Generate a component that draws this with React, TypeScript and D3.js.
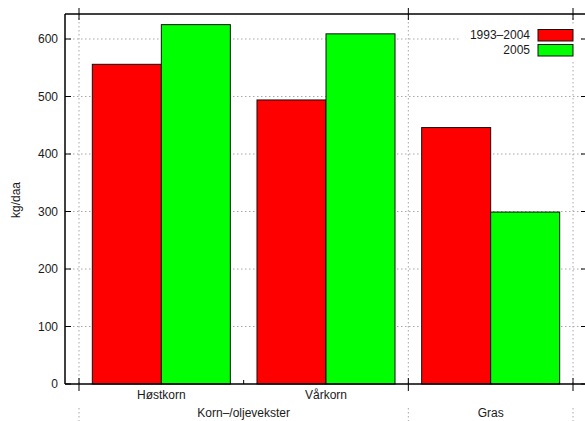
import React from "react";
import * as d3 from "d3";

// Yield per decare, grouped by crop
const crops = ["Høstkorn", "Vårkorn", "Gras"];
// Crops that form their own group carry only the group label
const cropLabels = ["Høstkorn", "Vårkorn", ""];
const seriesNames = ["1993–2004", "2005"];
const values1993to2004 = [556, 494, 446];
const values2005 = [625, 609, 299];
const seriesColors = ["#ff0000", "#00ff00"];
const yTicks = [0, 100, 200, 300, 400, 500, 600];
const groupLabels = [
  { label: "Korn–/oljevekster", from: 0, to: 2 },
  { label: "Gras", from: 2, to: 3 },
];

const W = 585;
const H = 421;
const left = 65;
const right = 587;
const top = 14;
const bottom = 384;
const font = "'Liberation Sans', Arial, Helvetica, sans-serif";
const textColor = "#1a1a1a";
const gridColor = "#a8a8a8";

export default function App() {
  const y = d3.scaleLinear().domain([0, 643.5]).range([bottom, top]);
  const x0 = d3.scaleBand<string>().domain(crops).range([79, 573]).paddingInner(0);
  const x1 = d3
    .scaleBand<string>()
    .domain(seriesNames)
    .range([0, x0.step()])
    .paddingOuter(0.193)
    .paddingInner(0);

  const series = [values1993to2004, values2005];
  const boundaries = d3.range(crops.length + 1).map((i) => 79 + i * x0.step());
  const groupEdges = groupLabels.flatMap((g) => [g.from, g.to]);
  const majorEdges = Array.from(new Set(groupEdges)).map((i) => boundaries[i]);

  return (
    <svg
      width={W}
      height={H}
      style={{ position: "absolute", left: 0, top: 0, background: "#fff" }}
      fontFamily={font}
    >
      {/* horizontal grid */}
      {yTicks
        .filter((t) => t > 0)
        .map((t) => (
          <line
            key={"hg" + t}
            x1={left}
            x2={right}
            y1={y(t)}
            y2={y(t)}
            stroke={gridColor}
            strokeWidth={1}
            strokeDasharray="1.5,2.5"
          />
        ))}
      {/* vertical grid at group edges */}
      {majorEdges.map((bx) => (
        <g key={"vg" + bx}>
          <line x1={bx} x2={bx} y1={top} y2={bottom} stroke={gridColor} strokeDasharray="1.5,2.5" />
          <line x1={bx} x2={bx} y1={408} y2={H} stroke={gridColor} strokeDasharray="1.5,2.5" />
        </g>
      ))}

      {/* bars */}
      {crops.map((c, i) => (
        <g key={c} transform={`translate(${x0(c)},0)`}>
          {series.map((vals, s) => (
            <rect
              key={s}
              x={x1(seriesNames[s])}
              y={y(vals[i])}
              width={x1.bandwidth()}
              height={bottom - y(vals[i])}
              fill={seriesColors[s]}
              stroke="#111"
              strokeWidth={1}
            />
          ))}
        </g>
      ))}

      {/* legend */}
      <rect x={460} y={24} width={120} height={36} fill="#fff" />
      {seriesNames.map((n, s) => (
        <g key={n}>
          <text
            x={530}
            y={35 + s * 15}
            dy="0.35em"
            textAnchor="end"
            fontSize={12}
            fill={textColor}
          >
            {n}
          </text>
          <rect
            x={538}
            y={29.5 + s * 15}
            width={35}
            height={11.5}
            fill={seriesColors[s]}
            stroke="#111"
            strokeWidth={1}
          />
        </g>
      ))}

      {/* frame */}
      <line x1={left} x2={left} y1={top} y2={bottom} stroke="#000" strokeWidth={1.5} />
      <line x1={left} x2={right} y1={top} y2={top} stroke="#000" strokeWidth={1.5} />
      <line x1={left} x2={right} y1={bottom} y2={bottom} stroke="#000" strokeWidth={1.5} />

      {/* y ticks and labels */}
      {yTicks.map((t) => (
        <g key={"yt" + t}>
          <line x1={left} x2={left + 6} y1={y(t)} y2={y(t)} stroke="#000" />
          <line x1={right - 6} x2={right} y1={y(t)} y2={y(t)} stroke="#000" />
          <text
            x={58}
            y={y(t)}
            dy="0.35em"
            textAnchor="end"
            fontSize={12}
            fill={textColor}
          >
            {t}
          </text>
        </g>
      ))}

      {/* x ticks */}
      {boundaries.map((bx) => {
        const major = majorEdges.includes(bx);
        return (
          <g key={"xt" + bx}>
            <line
              x1={bx}
              x2={bx}
              y1={major ? bottom + 7 : bottom}
              y2={bottom - (major ? 6 : 4)}
              stroke="#000"
            />
            {major && <line x1={bx} x2={bx} y1={top - 6} y2={top + 6} stroke="#000" />}
          </g>
        );
      })}

      {/* category labels */}
      {crops.map((c, i) =>
        cropLabels[i] ? (
          <text
            key={"cl" + c}
            x={(x0(c) ?? 0) + x0.step() / 2}
            y={399}
            textAnchor="middle"
            fontSize={12}
            fill={textColor}
          >
            {cropLabels[i]}
          </text>
        ) : null
      )}
      {groupLabels.map((g) => (
        <text
          key={g.label}
          x={(boundaries[g.from] + boundaries[g.to]) / 2}
          y={417}
          textAnchor="middle"
          fontSize={12}
          fill={textColor}
        >
          {g.label}
        </text>
      ))}

      {/* y axis title */}
      <text
        transform={`translate(20,200) rotate(-90)`}
        textAnchor="middle"
        fontSize={12}
        fill={textColor}
      >
        kg/daa
      </text>
    </svg>
  );
}
